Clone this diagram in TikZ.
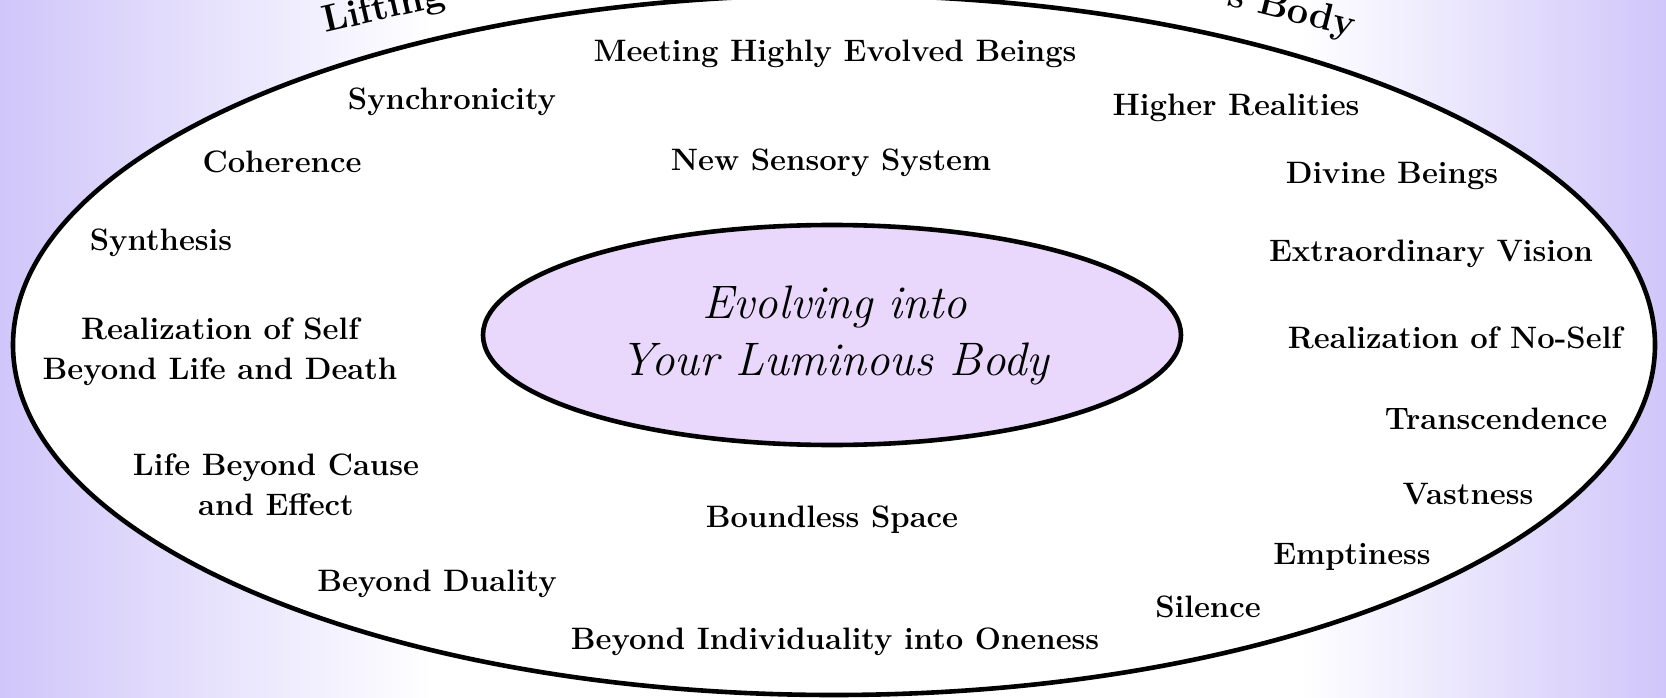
\documentclass[tikz,border=0pt]{standalone}
\usepackage{tikz}
\usetikzlibrary{positioning,shapes}
\definecolor{bg-purple}{RGB}{208,198,250}
\definecolor{core-lilac}{RGB}{233,216,252}
\pgfdeclarehorizontalshading{bgfade}{100bp}{color(0bp)=(bg-purple); color(25bp)=(bg-purple); color(38bp)=(white); color(64bp)=(white); color(75bp)=(bg-purple); color(100bp)=(bg-purple)}
\tikzset{
	lbl/.style={font=\fontsize{31}{40}\selectfont\bfseries, align=center, inner sep=0pt},
	arclbl/.style={font=\fontsize{38}{40}\selectfont\bfseries, inner sep=0pt},
	ring/.style={line width=4.6pt, draw=black}
}

\begin{document}
\begin{tikzpicture}[x=1pt,y=-1pt]
	% frame
	\useasboundingbox (0,0) rectangle (1666,698);
	\clip (0,0) rectangle (1666,698);
	\shade[shading=bgfade] (0,0) rectangle (1666,698);
	
	% title on the arc
	\node[arclbl, anchor=base west, rotate=13] (lift) at (325,33) {Lifting};
	\node[arclbl, anchor=base east, rotate=-14] (body) at (1353,37) {s Body};
	
	% outer ring
	\draw[ring, fill=white] (834,345) ellipse [x radius=821, y radius=350];
	
	% core
	\draw[ring, fill=core-lilac] (832,335) ellipse [x radius=349, y radius=110];
	\node[font=\fontsize{47}{57}\selectfont\itshape, align=center, inner sep=0pt] (core) at (835,335) {Evolving into\\Your Luminous Body};
	
	% upper half
	\node[lbl] (meeting) at (835,54) {Meeting Highly Evolved Beings};
	\node[lbl] (sync) at (452,102) {Synchronicity};
	\node[lbl] (higher) at (1236,108) {Higher Realities};
	\node[lbl] (coherence) at (282,162) {Coherence};
	\node[lbl] (sensory) at (831,163) {New Sensory System};
	\node[lbl] (divine) at (1392,176) {Divine Beings};
	\node[lbl] (synthesis) at (161,243) {Synthesis};
	\node[lbl] (vision) at (1431,254) {Extraordinary Vision};
	
	% middle
	\node[lbl] (selfreal) at (220,352) {Realization of Self\\Beyond Life and Death};
	\node[lbl] (noself) at (1455,338) {Realization of No-Self};
	\node[lbl] (transc) at (1496,419) {Transcendence};
	
	% lower half
	\node[lbl] (cause) at (276,485) {Life Beyond Cause\\and Effect};
	\node[lbl] (vast) at (1468,494) {Vastness};
	\node[lbl] (space) at (832,520) {Boundless Space};
	\node[lbl] (empty) at (1352,557) {Emptiness};
	\node[lbl] (duality) at (437,584) {Beyond Duality};
	\node[lbl] (silence) at (1208,607) {Silence};
	\node[lbl] (oneness) at (835,642) {Beyond Individuality into Oneness};
\end{tikzpicture}
\end{document}
